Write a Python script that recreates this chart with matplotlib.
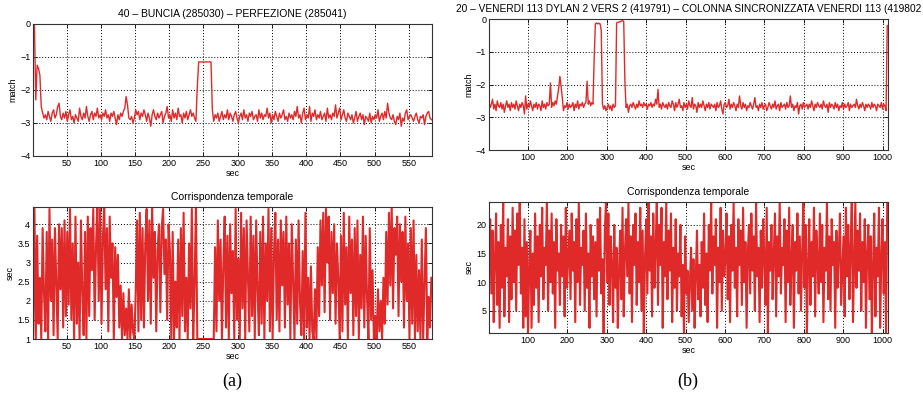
import numpy as np
import matplotlib.pyplot as plt

# (a) match value, read every 2 s starting at 1 s
match_a = [
    0.0, 0.0, -2.3, -1.25, -1.35, -1.55, -2.5, -2.7, -2.85, -2.75,
    -2.9, -2.65, -2.8, -2.95, -2.7, -2.6, -2.85, -2.75, -2.5, -2.4,
    -2.8, -2.9, -2.7, -2.85, -2.65, -2.95, -2.75, -2.6, -2.9, -2.8,
    -3.0, -2.75, -2.85, -2.95, -2.55, -2.8, -2.9, -2.7, -2.85, -2.5,
    -2.8, -2.95, -2.75, -2.65, -2.9, -2.7, -2.8, -2.55, -2.85, -2.75,
    -2.9, -2.7, -2.8, -2.6, -2.85, -2.75, -2.95, -2.7, -2.8, -2.65,
    -2.85, -3.05, -2.75, -2.9, -2.7, -2.8, -2.65, -2.55, -2.2, -2.45,
    -2.85, -2.9, -2.8, -3.0, -2.85, -2.6, -2.75, -2.65, -2.9, -2.7,
    -2.8, -2.6, -2.75, -2.95, -2.7, -2.85, -3.1, -2.75, -2.6, -2.8,
    -2.9, -2.7, -2.85, -2.75, -2.65, -3.0, -2.8, -2.7, -2.5, -2.85,
    -2.75, -2.95, -2.6, -2.85, -2.7, -2.9, -2.55, -2.8, -2.75, -3.0,
    -2.7, -2.85, -2.65, -2.9, -2.75, -2.6, -2.8, -2.7, -2.85, -2.95,
    -1.9, -1.15, -1.15, -1.15, -1.15, -1.15, -1.15, -1.15, -1.15, -1.15,
    -1.15, -2.6, -2.95, -2.75, -2.85, -2.7, -2.95, -2.8, -2.65, -2.9,
    -2.75, -2.85, -2.6, -2.9, -2.7, -2.8, -2.95, -2.75, -2.65, -2.85,
    -3.0, -2.8, -2.7, -2.9, -2.6, -2.85, -2.75, -2.95, -2.7, -2.8,
    -2.65, -2.9, -2.8, -2.75, -2.95, -2.6, -2.85, -2.7, -2.9, -2.75,
    -2.8, -2.55, -2.85, -2.7, -3.0, -2.75, -2.9, -2.65, -2.8, -2.95,
    -2.7, -2.85, -2.75, -2.6, -2.9, -2.8, -2.95, -2.7, -2.85, -2.75,
    -2.9, -2.65, -2.8, -2.5, -2.85, -2.75, -3.0, -2.7, -2.55, -2.9,
    -2.75, -2.85, -2.5, -2.95, -2.7, -2.8, -2.6, -2.9, -2.75, -2.85,
    -2.65, -2.9, -2.8, -2.7, -2.95, -2.55, -2.85, -2.75, -2.9, -2.7,
    -2.8, -2.45, -2.85, -2.7, -2.55, -2.9, -2.75, -2.6, -2.85, -2.95,
    -2.7, -2.8, -2.9, -2.75, -3.0, -2.85, -2.65, -2.95, -2.8, -2.7,
    -2.9, -2.75, -3.05, -2.8, -2.85, -2.95, -2.7, -3.0, -2.8, -2.9,
    -2.75, -2.85, -2.6, -2.95, -2.8, -2.7, -2.9, -2.65, -2.85, -2.4,
    -2.7, -2.85, -2.9, -2.75, -2.95, -3.05, -2.8, -2.9, -2.7, -3.1,
    -2.85, -2.95, -2.7, -2.6, -2.9, -2.8, -2.75, -2.85, -2.95, -2.8,
    -2.7, -2.9, -3.0, -2.8, -2.85, -2.75, -3.05, -2.8, -2.7, -2.65,
    -2.85, -2.9,
]

# (a) time correspondence, same sampling
corr_a = [
    1.1, 4.5, 1.0, 3.7, 1.4, 2.6, 1.0, 3.9, 2.2, 1.2,
    3.8, 1.0, 4.4, 2.0, 3.6, 1.1, 3.9, 2.5, 1.0, 4.0,
    2.3, 3.9, 1.3, 4.1, 1.6, 3.8, 1.9, 4.4, 1.5, 3.5,
    1.0, 4.2, 1.4, 3.0, 1.0, 4.1, 2.2, 1.1, 3.8, 1.0,
    4.2, 1.6, 3.9, 2.8, 4.4, 1.5, 3.4, 4.5, 2.0, 4.4,
    1.4, 3.6, 4.5, 2.3, 3.9, 1.2, 4.2, 2.6, 3.5, 1.0,
    3.4, 2.1, 3.2, 1.3, 2.4, 1.0, 2.2, 1.1, 1.8, 1.0,
    2.3, 1.0, 1.9, 1.2, 1.0, 2.2, 4.1, 1.2, 4.3, 1.5,
    3.9, 1.3, 3.5, 4.4, 2.0, 4.1, 1.4, 4.5, 2.6, 3.8,
    1.2, 3.3, 4.0, 1.7, 3.9, 4.4, 2.7, 3.6, 1.5, 4.0,
    3.3, 1.0, 3.8, 1.0, 2.5, 1.3, 3.6, 1.0, 3.9, 1.6,
    4.3, 1.2, 2.6, 1.0, 3.5, 1.8, 4.4, 1.0, 2.4, 4.5,
    1.0, 1.0, 1.0, 1.0, 1.0, 1.0, 1.0, 1.0, 1.0, 1.0,
    1.0, 1.0, 1.0, 3.4, 1.2, 4.1, 2.0, 3.6, 1.0, 2.9,
    4.2, 1.3, 3.7, 1.0, 4.0, 2.2, 3.3, 1.0, 4.4, 1.5,
    3.1, 1.0, 4.3, 1.8, 3.9, 1.0, 4.1, 2.6, 1.2, 4.2,
    1.6, 3.7, 1.0, 4.1, 2.3, 1.1, 3.8, 1.4, 4.2, 1.0,
    3.5, 2.0, 4.4, 1.2, 3.9, 1.0, 3.2, 4.3, 1.5, 3.6,
    1.2, 4.1, 2.4, 3.8, 1.3, 4.2, 1.9, 3.5, 1.0, 4.0,
    2.5, 1.0, 3.6, 1.4, 4.1, 2.0, 1.1, 3.3, 1.0, 4.3,
    1.3, 2.6, 1.0, 2.9, 1.2, 1.0, 2.3, 1.0, 3.4, 1.6,
    4.1, 2.4, 4.3, 1.7, 4.4, 3.0, 4.2, 1.5, 3.8, 2.2,
    4.0, 1.4, 3.5, 2.6, 1.0, 3.7, 1.2, 4.3, 1.9, 3.4,
    1.0, 4.2, 2.2, 3.6, 1.1, 3.9, 1.6, 4.1, 1.0, 3.2,
    1.8, 4.2, 1.3, 3.7, 2.1, 1.0, 3.9, 1.5, 2.8, 1.0,
    1.6, 1.0, 2.3, 1.2, 2.0, 1.0, 2.6, 1.4, 3.8, 1.9,
    4.3, 2.4, 4.5, 1.8, 3.9, 3.2, 4.2, 1.6, 4.0, 2.5,
    3.8, 1.3, 4.2, 2.0, 3.5, 1.0, 3.9, 1.4, 4.1, 1.0,
    3.2, 1.2, 2.8, 1.0, 3.6, 1.0, 2.4, 3.9, 1.0, 2.1,
    1.3, 2.6,
]

# (b) match value, read every 3 s starting at 1 s
match_b = [
    -2.55, -2.7, -2.6, -2.45, -2.75, -2.6, -2.8, -2.5, -2.65, -2.7,
    -2.55, -2.75, -2.6, -2.85, -2.65, -2.5, -2.7, -2.6, -2.8, -2.55,
    -2.7, -2.6, -2.75, -2.5, -2.65, -2.8, -2.6, -2.7, -2.55, -2.65,
    -2.9, -2.35, -2.75, -2.6, -2.7, -2.5, -2.65, -2.8, -2.6, -2.7,
    -2.55, -2.75, -2.6, -2.65, -2.8, -2.5, -2.7, -2.6, -2.75, -2.55,
    -2.65, -2.6, -1.95, -2.7, -2.55, -2.65, -2.5, -2.6, -2.35, -2.1,
    -1.75, -2.05, -2.4, -2.8, -2.65, -2.7, -2.55, -2.75, -2.6, -2.7,
    -2.65, -2.55, -2.8, -2.6, -2.7, -2.5, -2.75, -2.6, -2.65, -2.55,
    -2.7, -2.6, -2.55, -1.9, -2.6, -2.5, -2.65, -2.55, -2.6, -1.2,
    -0.15, -0.12, -0.15, -0.13, -0.15, -0.35, -2.6, -2.75, -2.65, -2.8,
    -2.7, -2.6, -2.75, -2.65, -2.8, -2.6, -2.7, -2.65, -0.12, -0.1,
    -0.1, -0.08, -0.06, -0.05, -0.07, -1.9, -2.7, -2.6, -2.85, -2.65,
    -2.6, -2.7, -2.55, -2.65, -2.75, -2.6, -2.7, -2.5, -2.65, -2.6,
    -2.7, -2.55, -2.65, -2.6, -2.75, -2.6, -2.65, -2.55, -2.7, -2.6,
    -2.65, -2.45, -2.6, -2.15, -2.7, -2.6, -2.75, -2.55, -2.65, -2.7,
    -2.6, -2.75, -2.55, -2.65, -2.7, -2.5, -2.6, -2.8, -2.55, -2.7,
    -2.6, -2.45, -2.7, -2.65, -2.8, -2.55, -2.7, -2.6, -2.75, -2.5,
    -2.65, -2.7, -2.4, -2.75, -2.6, -2.65, -2.85, -2.55, -2.7, -2.6,
    -2.7, -2.5, -2.65, -2.8, -2.6, -2.7, -2.55, -2.75, -2.6, -2.65,
    -2.7, -2.6, -2.8, -2.55, -2.7, -2.65, -2.5, -2.75, -2.9, -2.6,
    -2.55, -2.7, -2.65, -2.45, -2.75, -2.6, -2.7, -2.55, -2.65, -2.8,
    -2.6, -2.7, -2.35, -2.65, -2.75, -2.55, -2.7, -2.6, -2.8, -2.65,
    -2.7, -2.55, -2.65, -2.75, -2.6, -2.4, -2.7, -2.65, -2.8, -2.6,
    -2.7, -2.55, -2.75, -2.65, -2.6, -2.8, -2.7, -2.55, -2.65, -2.75,
    -2.6, -2.7, -2.5, -2.75, -2.65, -2.6, -2.8, -2.55, -2.7, -2.65,
    -2.6, -2.75, -2.55, -2.7, -2.65, -2.35, -2.7, -2.6, -2.8, -2.65,
    -2.7, -2.55, -2.9, -2.65, -2.6, -2.75, -2.55, -2.7, -2.65, -2.6,
    -2.75, -2.6, -2.7, -2.5, -2.65, -2.8, -2.6, -2.7, -2.55, -2.65,
    -2.7, -2.6, -2.75, -2.5, -2.65, -2.7, -2.6, -2.85, -2.55, -2.7,
    -2.6, -2.65, -2.75, -2.55, -2.7, -2.6, -2.8, -2.65, -2.7, -2.55,
    -2.75, -2.6, -2.7, -2.65, -2.55, -2.8, -2.6, -2.7, -2.65, -2.6,
    -2.7, -2.45, -2.65, -2.75, -2.6, -2.7, -2.55, -2.65, -2.8, -2.6,
    -2.7, -2.6, -2.65, -2.75, -2.55, -2.7, -2.6, -2.65, -2.8, -2.6,
    -2.65, -2.7, -2.55, -2.75, -2.6, -2.65, -2.8, -0.2,
]

# (b) time correspondence, same sampling
corr_b = [
    15, 21, 8, 19, 3, 14, 22, 6, 17, 2,
    20, 9, 24, 4, 16, 11, 21, 3, 18, 7,
    23, 10, 19, 5, 22, 13, 24, 8, 16, 2,
    21, 4, 17, 1, 12, 19, 2, 15, 6, 22,
    9, 18, 3, 20, 11, 23, 7, 16, 13, 24,
    5, 19, 10, 22, 8, 17, 2, 21, 12, 15,
    6, 20, 11, 18, 4, 23, 9, 14, 19, 7,
    22, 12, 17, 3, 21, 10, 24, 6, 16, 13,
    19, 5, 22, 9, 15, 2, 20, 11, 18, 7,
    17, 4, 21, 12, 23, 8, 14, 1, 19, 24,
    10, 22, 6, 18, 13, 3, 20, 9, 16, 2,
    12, 19, 7, 23, 4, 15, 21, 11, 24, 8,
    18, 3, 20, 13, 22, 6, 17, 10, 23, 5,
    19, 1, 14, 21, 8, 24, 12, 18, 4, 22,
    9, 16, 24, 6, 20, 13, 23, 2, 17, 11,
    24, 7, 19, 12, 22, 3, 16, 9, 21, 5,
    15, 11, 20, 4, 13, 1, 18, 8, 12, 3,
    10, 16, 5, 14, 2, 11, 19, 7, 13, 4,
    17, 9, 22, 6, 15, 3, 20, 12, 24, 8,
    18, 13, 21, 2, 16, 10, 23, 5, 19, 11,
    14, 22, 7, 18, 3, 20, 12, 24, 9, 16,
    4, 21, 13, 19, 6, 23, 10, 17, 2, 15,
    20, 8, 22, 12, 18, 5, 24, 11, 16, 3,
    19, 9, 21, 14, 6, 23, 1, 17, 12, 20,
    7, 15, 22, 4, 18, 11, 24, 8, 16, 13,
    21, 3, 19, 10, 23, 6, 14, 20, 2, 17,
    12, 22, 8, 18, 5, 15, 24, 9, 20, 1,
    13, 21, 6, 17, 11, 23, 4, 19, 14, 8,
    22, 10, 20, 3, 16, 12, 24, 7, 18, 5,
    21, 13, 17, 2, 19, 9, 15, 22, 6, 12,
    18, 4, 23, 11, 20, 7, 16, 24, 3, 14,
    24, 9, 19, 12, 22, 5, 17, 10, 21, 2,
    15, 20, 7, 18, 1, 13, 22, 4, 16, 11,
    23, 2, 14, 21, 8, 17, 1, 24,
]

title_a = '40 – BUNCIA (285030) – PERFEZIONE (285041)'
# the original title runs off the page; only this part is visible
title_b = '20 – VENERDI 113 DYLAN 2 VERS 2 (419791) – COLONNA SINCRONIZZATA VENERDI 113 (419802'
title_corr = 'Corrispondenza temporale'
xticks_a = [50, 100, 150, 200, 250, 300, 350, 400, 450, 500, 550]
xticks_b = [100, 200, 300, 400, 500, 600, 700, 800, 900, 1000]
yticks_match = [-4, -3, -2, -1, 0]
yticks_corr_a = [1, 1.5, 2, 2.5, 3, 3.5, 4]
yticks_corr_b = [5, 10, 15, 20]

sec_a = 1 + 2 * np.arange(len(match_a))
sec_b = 1 + 3 * np.arange(len(match_b))

plt.rcParams['font.family'] = ['Liberation Sans', 'DejaVu Sans']
red = '#e02a2a'

fig = plt.figure(figsize=(9.23, 3.96), dpi=100)


def panel(rect, x, y, xlim, ylim, xticks, yticks, ylabel, title, lw, tsize=7.5):
    ax = fig.add_axes(rect)
    ax.plot(x, y, color=red, lw=lw)
    ax.set_xlim(xlim)
    ax.set_ylim(ylim)
    ax.set_xticks(xticks)
    ax.set_yticks(yticks)
    ax.set_yticklabels([f'{t:g}'.replace('-', '\u2212') for t in yticks])
    ax.grid(True, color='black', linestyle=(0, (1, 2)), linewidth=0.7)
    ax.tick_params(direction='in', length=3, width=0.6, labelsize=6.5,
                   top=True, right=True, pad=2)
    for s in ax.spines.values():
        s.set_linewidth(0.8)
        s.set_color('#333333')
    ax.set_xlabel('sec', fontsize=6.5, labelpad=1)
    ax.set_ylabel(ylabel, fontsize=6.5, labelpad=2)
    ax.set_title(title, fontsize=tsize, pad=5)
    return ax


panel([0.0358, 0.6061, 0.4323, 0.3333], sec_a, match_a, (1, 584), (-4, 0),
      xticks_a, yticks_match, 'match', title_a, 1.0)
panel([0.0358, 0.1439, 0.4323, 0.3333], sec_a, corr_a, (1, 584), (1, 4.45),
      xticks_a, yticks_corr_a, 'sec', title_corr, 1.5)
panel([0.5298, 0.6212, 0.4323, 0.3308], sec_b, match_b, (1, 1014), (-4, 0),
      xticks_b, yticks_match, 'match', title_b, 1.0, tsize=7.3)
panel([0.5298, 0.1591, 0.4323, 0.3308], sec_b, corr_b, (1, 1014), (1.1, 24),
      xticks_b, yticks_corr_b, 'sec', title_corr, 1.5)

fig.text(0.2515, 0.038, '(a)', ha='center', va='center', fontsize=13,
         family='Liberation Serif')
fig.text(0.7455, 0.038, '(b)', ha='center', va='center', fontsize=13,
         family='Liberation Serif')

fig.savefig('out.png', dpi=100)
